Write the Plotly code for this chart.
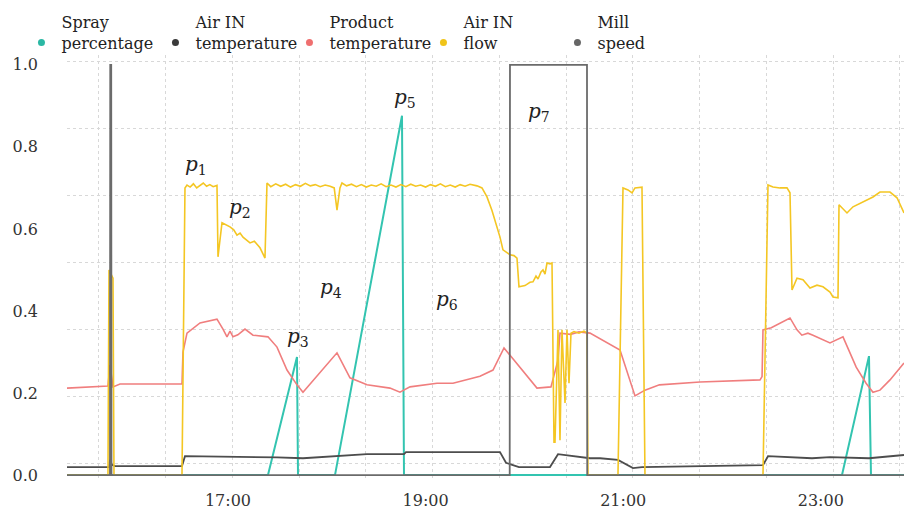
import plotly.graph_objects as go

DAY = "2024-01-01 "

# ---------------- data ----------------
spray_t = ["15:22:14", "17:24:17", "17:41:54", "17:42:31", "18:04:59", "18:45:40",
           "18:46:53", "23:12:53", "23:29:16", "23:30:29", "23:50:32"]
spray_v = [0, 0, 0.288, 0, 0, 0.876, 0, 0, 0.29, 0, 0]

airtemp_t = ["15:22:14", "15:47:44", "15:48:20", "15:49:33", "15:51:23", "16:32:04",
             "16:33:53", "17:00:00", "17:29:46", "17:45:33", "18:06:12", "18:24:25",
             "18:46:53", "18:48:05", "19:45:11", "19:48:50", "19:56:43", "20:15:33",
             "20:20:25", "20:33:09", "20:39:50", "20:46:00", "20:56:50", "21:05:57",
             "21:11:25", "22:24:54", "22:27:56", "22:54:40", "23:05:35", "23:29:16",
             "23:50:32"]
airtemp_v = [0.0195, 0.0195, 0.037, 0.025, 0.022, 0.022,
             0.046, 0.045, 0.043, 0.041, 0.046, 0.051,
             0.051, 0.056, 0.056, 0.030, 0.0195, 0.0195,
             0.051, 0.044, 0.041, 0.041, 0.037, 0.017,
             0.0195, 0.024, 0.046, 0.041, 0.044, 0.041,
             0.049]

product_t = ["15:22:14", "15:47:07", "15:48:20", "15:49:33", "15:50:10", "15:54:25",
             "16:32:04", "16:32:40", "16:35:06", "16:43:00", "16:48:00", "16:53:19",
             "16:56:58", "16:59:24", "17:01:13", "17:03:02", "17:06:00", "17:10:19",
             "17:15:11", "17:21:15", "17:24:17", "17:29:46", "17:35:50", "17:41:54",
             "17:45:33", "18:06:12", "18:14:05", "18:24:25", "18:38:23", "18:44:27",
             "18:50:32", "19:06:55", "19:16:38", "19:33:02", "19:40:56", "19:47:37",
             "20:07:39", "20:16:09", "20:20:25", "20:21:37", "20:28:00", "20:33:09",
             "20:39:50", "20:58:04", "21:07:10", "21:13:14", "21:22:00", "21:46:38",
             "22:23:05", "22:24:20", "22:24:54", "22:29:56", "22:41:18", "22:45:33",
             "22:48:30", "22:52:10", "22:55:15", "23:05:35", "23:13:29", "23:21:30",
             "23:27:30", "23:31:42", "23:35:57", "23:42:02", "23:48:06", "23:50:32"]
product_v = [0.212, 0.217, 0.268, 0.225, 0.215, 0.222,
             0.222, 0.30, 0.346, 0.371, 0.376, 0.380,
             0.356, 0.337, 0.351, 0.337, 0.342, 0.356,
             0.341, 0.339, 0.337, 0.312, 0.256, 0.220,
             0.202, 0.298, 0.237, 0.220, 0.212, 0.202,
             0.215, 0.224, 0.224, 0.241, 0.256, 0.310,
             0.212, 0.215, 0.280, 0.346, 0.343, 0.349,
             0.346, 0.305, 0.193, 0.207, 0.220, 0.227,
             0.232, 0.240, 0.354, 0.359, 0.383, 0.354,
             0.341, 0.346, 0.341, 0.322, 0.337, 0.263,
             0.224, 0.202, 0.207, 0.232, 0.263, 0.273]

flow_t = ["15:22:14", "15:47:07", "15:47:44", "15:50:10", "15:50:46", "16:32:04",
          "16:33:53", "16:35:06", "16:37:00", "16:39:00", "16:41:00", "16:43:00",
          "16:45:00", "16:47:00", "16:49:00", "16:51:00", "16:53:19", "16:53:56",
          "16:56:22", "17:01:13", "17:03:30", "17:05:28", "17:07:20", "17:09:07",
          "17:13:22", "17:16:00", "17:19:26", "17:22:28", "17:23:41", "17:26:00",
          "17:29:00", "17:32:00", "17:35:00", "17:38:00", "17:41:00", "17:44:00",
          "17:47:00", "17:50:00", "17:53:00", "17:56:00", "17:59:00", "18:02:00",
          "18:04:30", "18:06:12", "18:08:00", "18:09:14", "18:12:00", "18:15:00",
          "18:18:00", "18:21:00", "18:24:00", "18:27:00", "18:30:00", "18:33:00",
          "18:36:00", "18:39:00", "18:42:00", "18:45:00", "18:48:00", "18:51:00",
          "18:54:00", "18:57:00", "19:00:00", "19:03:00", "19:06:00", "19:09:00",
          "19:12:00", "19:15:00", "19:18:00", "19:21:00", "19:24:00", "19:27:00",
          "19:31:13", "19:34:15", "19:37:17", "19:40:19", "19:43:22", "19:45:11",
          "19:47:00", "19:48:13", "19:51:15", "19:53:41", "19:55:30", "19:56:43",
          "20:00:22", "20:03:24", "20:05:13", "20:07:03", "20:08:16", "20:10:05",
          "20:11:18", "20:12:31", "20:13:44", "20:15:33", "20:16:46", "20:17:59",
          "20:18:35", "20:20:25", "20:21:37", "20:22:50", "20:24:40", "20:25:52",
          "20:27:05", "20:28:18", "20:30:07", "20:33:09", "20:36:11", "20:38:01",
          "20:38:38", "20:56:50", "20:59:53", "21:02:55", "21:05:21", "21:07:10",
          "21:11:25", "21:13:14", "22:24:54", "22:27:56", "22:30:58", "22:35:13",
          "22:39:28", "22:41:18", "22:42:31", "22:45:33", "22:49:12", "22:53:27",
          "22:57:42", "23:01:20", "23:05:35", "23:07:25", "23:10:27", "23:11:04",
          "23:15:55", "23:19:34", "23:25:38", "23:31:42", "23:35:57", "23:42:02",
          "23:46:17", "23:50:32"]
flow_v = [0, 0, 0.50, 0.48, 0, 0,
          0.700, 0.707, 0.702, 0.710, 0.700, 0.705,
          0.712, 0.704, 0.708, 0.703, 0.706, 0.532,
          0.615, 0.605, 0.598, 0.585, 0.590, 0.580,
          0.566, 0.570, 0.554, 0.529, 0.712, 0.703,
          0.710, 0.704, 0.709, 0.702, 0.708, 0.704,
          0.711, 0.705, 0.708, 0.703, 0.707, 0.704,
          0.700, 0.646, 0.700, 0.712, 0.705, 0.709,
          0.703, 0.708, 0.702, 0.707, 0.704, 0.710,
          0.703, 0.707, 0.702, 0.708, 0.703, 0.709,
          0.704, 0.707, 0.702, 0.708, 0.704, 0.710,
          0.703, 0.707, 0.702, 0.708, 0.704, 0.709,
          0.705, 0.700, 0.678, 0.645, 0.605, 0.580,
          0.549, 0.545, 0.537, 0.535, 0.529, 0.459,
          0.462, 0.470, 0.471, 0.485, 0.478, 0.495,
          0.500, 0.490, 0.517, 0.515, 0.517, 0.080,
          0.080, 0.354, 0.085, 0.354, 0.176, 0.354,
          0.224, 0.346, 0.350, 0.346, 0.351, 0.346,
          0, 0, 0.700, 0.695, 0.688, 0.700,
          0.702, 0, 0, 0.707, 0.702, 0.700,
          0.700, 0.688, 0.451, 0.480, 0.476, 0.456,
          0.463, 0.459, 0.446, 0.434, 0.432, 0.659,
          0.639, 0.654, 0.666, 0.678, 0.690, 0.690,
          0.676, 0.639]

mill_t = ["15:22:14", "15:48:20", "15:48:30", "15:49:05", "15:49:15", "19:51:05",
          "19:51:15", "20:38:01", "20:38:10", "23:50:32"]
mill_v = [0, 0, 1.0, 1.0, 0, 0, 1.0, 1.0, 0, 0]

series_names = ["Spray<br>percentage", "Air IN<br>temperature", "Product<br>temperature",
                "Air IN<br>flow", "Mill<br>speed"]

label_text = ["p<sub>1</sub>", "p<sub>2</sub>", "p<sub>3</sub>", "p<sub>4</sub>",
              "p<sub>5</sub>", "p<sub>6</sub>", "p<sub>7</sub>"]
label_t = ["16:40:30", "17:07:00", "17:42:30", "18:02:30", "18:47:30", "19:13:00", "20:09:00"]
label_v = [0.756, 0.651, 0.337, 0.456, 0.920, 0.427, 0.885]

x_tick_t = ["17:00", "19:00", "21:00", "23:00"]
y_tick_v = [0.0, 0.2, 0.4, 0.6, 0.8, 1.0]

# ---------------- styling ----------------
line_colors = ["#33c4b0", "#4d4d4d", "#f07e7e", "#f4c623", "#6b6b6b"]
dot_colors = ["#2bb8a4", "#3a3a3a", "#ef6f6f", "#f0c419", "#666666"]
line_widths = [2, 1.8, 1.6, 1.6, 1.8]

def ts(lst):
    return [DAY + t for t in lst]

fig = go.Figure()
all_series = [(spray_t, spray_v), (airtemp_t, airtemp_v), (product_t, product_v),
              (flow_t, flow_v), (mill_t, mill_v)]
for i, (t, v) in enumerate(all_series):
    fig.add_trace(go.Scatter(x=ts(t), y=v, mode="lines", showlegend=False,
                             legendgroup=str(i),
                             line=dict(color=line_colors[i], width=line_widths[i])))
for i, name in enumerate(series_names):
    fig.add_trace(go.Scatter(x=[None], y=[None], mode="markers", name=name,
                             legendgroup=str(i),
                             marker=dict(color=dot_colors[i], size=7)))

for txt, t, v in zip(label_text, label_t, label_v):
    fig.add_annotation(x=DAY + t, y=v, text="<i>" + txt.replace("<sub>", "</i><sub>", 1),
                       showarrow=False, xref="x", yref="y",
                       font=dict(family="DejaVu Serif", size=20, color="#222222"))

SERIF = "DejaVu Serif"
fig.update_layout(
    width=904, height=510,
    margin=dict(l=67, r=0, t=55, b=30, autoexpand=False),
    paper_bgcolor="white", plot_bgcolor="white",
    font=dict(family=SERIF, size=16, color="#333333"),
    legend=dict(orientation="h", x=-0.0544, xanchor="left", y=1.118, yanchor="top",
                font=dict(family=SERIF, size=16, color="#222222"),
                entrywidth=89, valign="bottom", bgcolor="rgba(0,0,0,0)",
                itemclick=False),
    xaxis=dict(type="date", range=[DAY + "15:22:14", DAY + "23:50:32"],
               tickvals=[DAY + t for t in x_tick_t], ticktext=x_tick_t,
               showgrid=False, zeroline=False, showline=False, ticks="",
               ticklabelstandoff=9,
               tickfont=dict(family=SERIF, size=16, color="#333333"),
               minor=dict(tick0=DAY + "15:41:39", dtick=2432000, showgrid=True,
                          gridcolor="#d8d8d8", griddash="dot", gridwidth=1)),
    yaxis=dict(range=[-0.012, 1.024], tickvals=y_tick_v,
               ticktext=[f"{v:.1f}" for v in y_tick_v],
               showgrid=False, zeroline=False, showline=False, ticks="",
               ticklabelstandoff=28,
               tickfont=dict(family=SERIF, size=16, color="#333333"),
               minor=dict(tick0=0.029, dtick=0.163, showgrid=True,
                          gridcolor="#d8d8d8", griddash="dot", gridwidth=1)),
)

fig.write_html("out.html", config={"displayModeBar": False},
               post_script="document.body.style.margin='0';")
